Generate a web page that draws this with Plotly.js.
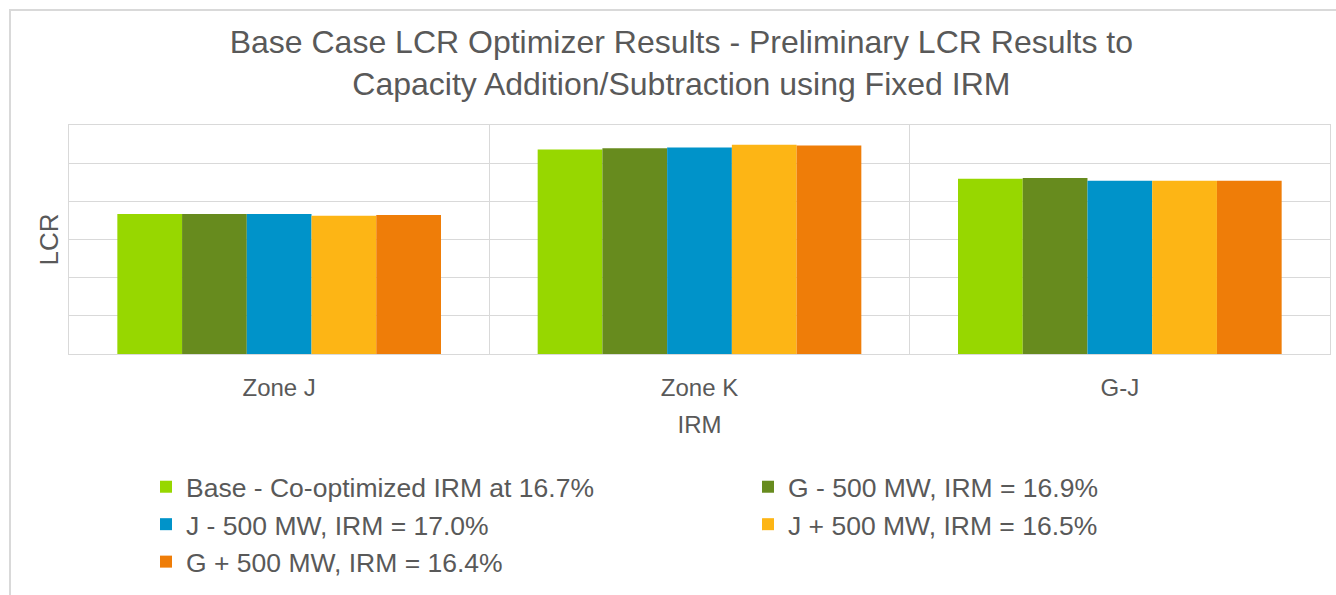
<!DOCTYPE html>
<html>
<head>
<meta charset="utf-8">
<script src="https://cdn.plot.ly/plotly-3.0.1.min.js"></script>
<style>
  html, body { margin: 0; padding: 0; background: #ffffff; }
  #chart { width: 1336px; height: 595px; position: relative; }
  #frame { position: absolute; left: 9px; top: 9px; width: 1400px; height: 700px;
           border-left: 2px solid #D9D9D9; border-top: 2px solid #D9D9D9; pointer-events: none; }
</style>
</head>
<body>
<div id="chart"></div>
<div id="frame"></div>
<script>
const categories = ["Zone J", "Zone K", "G-J"];
const seriesNames = [
  "Base - Co-optimized IRM at 16.7%",
  "G - 500 MW, IRM = 16.9%",
  "J - 500 MW, IRM = 17.0%",
  "J + 500 MW, IRM = 16.5%",
  "G + 500 MW, IRM = 16.4%"
];
const baseCase   = [3.67, 5.36, 4.59];
const gMinus500  = [3.67, 5.39, 4.61];
const jMinus500  = [3.67, 5.41, 4.54];
const jPlus500   = [3.62, 5.48, 4.54];
const gPlus500   = [3.645, 5.46, 4.54];
const seriesValues = [baseCase, gMinus500, jMinus500, jPlus500, gPlus500];
const colors = ["#97D700", "#678B1E", "#0093C9", "#FDB515", "#EF7D08"];

const FONT = "Liberation Sans, Arial, sans-serif";
const TXT = "#595959";
const GRID = "#D9D9D9";

const traces = seriesNames.map((name, i) => ({
  type: "bar",
  name: name,
  x: categories,
  y: seriesValues[i],
  marker: { color: colors[i], line: { width: 0 } },
  hoverinfo: "x+y+name"
}));

const layout = {
  width: 1336,
  height: 595,
  paper_bgcolor: "#ffffff",
  plot_bgcolor: "#ffffff",
  font: { family: FONT, color: TXT },
  margin: { l: 69, r: 6, t: 125, b: 241, pad: 0 },
  barmode: "group",
  bargap: 0.23,
  bargroupgap: 0,
  title: {
    text: "Base Case LCR Optimizer Results - Preliminary LCR Results to<br>Capacity Addition/Subtraction using Fixed IRM",
    font: { family: FONT, size: 32, color: TXT },
    x: 0.51, xref: "container", xanchor: "center",
    y: 0.911, yref: "container", yanchor: "middle"
  },
  xaxis: {
    type: "category",
    tickson: "boundaries",
    showgrid: true,
    gridcolor: GRID,
    gridwidth: 1,
    showline: true,
    linecolor: GRID,
    linewidth: 1,
    mirror: true,
    ticks: "",
    ticklabelstandoff: 12,
    tickfont: { family: FONT, size: 24, color: TXT },
    title: { text: "IRM", font: { family: FONT, size: 24, color: TXT }, standoff: 16 },
    zeroline: false,
    automargin: false,
    fixedrange: true
  },
  yaxis: {
    range: [0, 6],
    dtick: 1,
    showticklabels: false,
    showgrid: true,
    gridcolor: GRID,
    gridwidth: 1,
    showline: true,
    linecolor: GRID,
    linewidth: 1,
    mirror: true,
    ticks: "",
    zeroline: false,
    automargin: false,
    title: { text: "LCR", font: { family: FONT, size: 26, color: TXT }, standoff: 1 },
    fixedrange: true
  },
  showlegend: true,
  legend: {
    orientation: "h",
    x: 0, xanchor: "left",
    y: -0.476, yanchor: "top",
    indentation: 77,
    entrywidth: 480,
    entrywidthmode: "pixels",
    traceorder: "normal",
    font: { family: FONT, size: 26.5, color: TXT },
    bgcolor: "rgba(0,0,0,0)"
  }
};

Plotly.newPlot("chart", traces, layout, { displayModeBar: false, staticPlot: false });
</script>
</body>
</html>
